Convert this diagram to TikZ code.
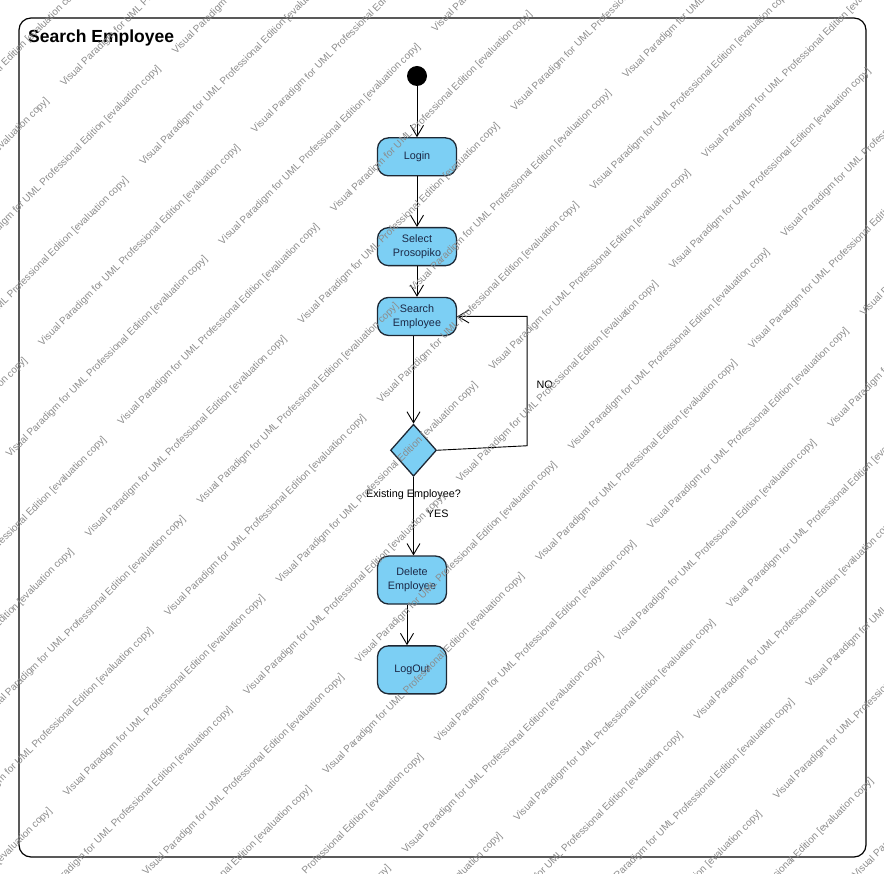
\documentclass[tikz,border=0pt]{standalone}
\usepackage{fontspec}
\setmainfont{Liberation Sans}
\usetikzlibrary{arrows.meta,calc,positioning,shapes.geometric}
\definecolor{actfill}{RGB}{124,207,244}
\definecolor{actline}{RGB}{30,40,52}
\definecolor{acttext}{RGB}{27,40,70}
\definecolor{wmgray}{RGB}{140,140,140}
\tikzset{every picture/.style={
  >={Straight Barb[length=11pt,width=13pt]}   % Open UML style arrows.
  }
}

\begin{document}
\begin{tikzpicture}[
    x=1pt, y=-1pt,
    node distance=30pt,
    act/.style={
      draw=actline,
      line width=1.3pt,
      fill=actfill,
      rounded corners=11pt,
      minimum width=79pt,
      minimum height=38pt,
      inner sep=1pt,
      align=center,
      text=acttext,
      font=\fontsize{10.8}{14}\selectfont
    },
    decision/.style={
      diamond,
      draw=actline,
      line width=1.3pt,
      fill=actfill,
      minimum width=46pt,
      minimum height=52pt,
      inner sep=0pt
    },
    flow/.style={->, line width=0.9pt},
    lbl/.style={inner sep=0pt, font=\fontsize{10.8}{13}\selectfont},
    wmark/.style={
      anchor=base west,
      rotate=45,
      inner sep=0pt,
      text=wmgray,
      font=\fontsize{10}{12}\selectfont
    }]

    \useasboundingbox (0,0) rectangle (884,874);

    % Helper macros for the evaluation stamp.
    \def\wmtext{Visual Paradigm for UML Professional Edition [evaluation copy]}
    \def\wm#1#2{
      \pgfmathsetmacro\wx{673+0.7071*(#1)+0.7071*(#2)}
      \pgfmathsetmacro\wy{270-0.7071*(#1)+0.7071*(#2)}
      \pgfmathtruncatemacro\wok{(\wx>-215)&&(\wx<884)&&(\wy>-5)&&(\wy<1080)}
      \ifnum\wok=1 \node[wmark] at (\wx,\wy) {\wmtext}; \fi
    }

    % The diagram frame and its title.
    \draw[line width=1.2pt, rounded corners=12pt] (19,18) rectangle (866,857);
    \node[anchor=base west, inner sep=0pt,
      font=\bfseries\fontsize{17.5}{20}\selectfont] (title) at (28,43)
      {Search Employee};

    % Start point and the actions.
    \node[circle, fill=black, minimum size=20pt, inner sep=0pt] (init) at (417,76) {};
    \node[act, below=51pt of init] (login) {Login};
    \node[act, below=50.5pt of login] (select) {Select\\Prosopiko};
    \node[act, below=30.5pt of select] (search) {Search\\Employee};
    \node[decision, below=87.5pt of search, xshift=-3.5pt] (exists) {};
    \node[lbl, below=13pt of exists] (existslbl) {Existing Employee?};
    \node[act, minimum width=69pt, minimum height=48pt,
      below=78.5pt of exists, xshift=-1.5pt] (delete) {Delete\\Employee};
    \node[act, minimum width=69pt, minimum height=48pt,
      below=40.5pt of delete] (logout) {LogOut};

    % Control flows.
    \draw[flow] (init) -- (login);
    \draw[flow] (login) -- (select);
    \draw[flow] (select) -- (search);
    \draw[flow] (exists.north |- search.south) -- (exists.north);
    \draw[flow] (exists.south) --
      node[lbl, pos=0.47, right=13pt] (yes) {YES}
      (delete.north -| exists.south);
    \draw[flow] ([xshift=-5pt] delete.south) -- ([xshift=-5pt] logout.north);

    % The NO branch loops back to the search.
    \coordinate (nobend) at ($(exists.east)+(90,-4.5)$);
    \draw[flow] (exists.east) -- (nobend) |-
      node[lbl, pos=0.237, right=9pt] (no) {NO} (search.east);

    % Evaluation stamp over the whole picture.
    \begin{scope}
      \clip (0,0) rectangle (884,874);
      \foreach \i in {-4,...,3}{
        \foreach \j in {-8,...,7}{
          \wm{301*\i}{112*\j}
          \wm{301*\i+102}{112*\j+56}
        }
      }
    \end{scope}
  \end{tikzpicture}
\end{document}
